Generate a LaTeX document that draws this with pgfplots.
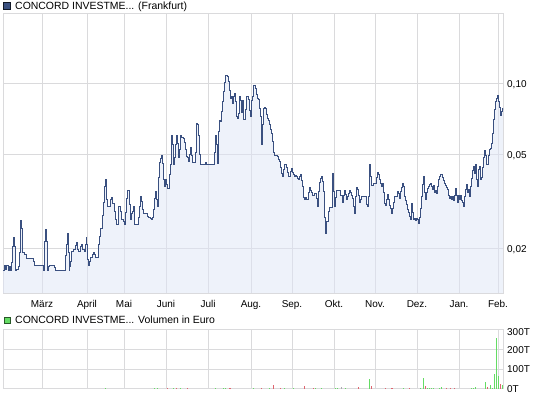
\documentclass[border=0pt]{standalone}
\usepackage{pgfplots}
\usepackage{pgfplotstable}
\pgfplotsset{compat=1.18}
\usepackage{fontspec}
\setmainfont{Liberation Sans}
\definecolor{gridgray}{RGB}{218,218,220}
\definecolor{linecol}{RGB}{58,80,128}
\definecolor{fillcol}{RGB}{222,229,246}
\definecolor{volgreen}{RGB}{100,220,100}
\definecolor{volred}{RGB}{222,100,110}
\definecolor{volgray}{RGB}{170,170,175}

\pgfplotstableread{
x y
0 0.0161
1 0.0169
2.3 0.0163
3.7 0.0169
5 0.0161
6.3 0.0168
7.7 0.0161
8.7 0.0174
9.7 0.0204
10.7 0.0223
11.7 0.0204
12.3 0.0161
13.7 0.0163
15 0.0168
16 0.0192
17 0.0236
17.7 0.0262
18.3 0.0242
19 0.0208
19.7 0.0192
21 0.0188
23 0.0181
30.3 0.0176
31 0.0169
40.3 0.0161
41.3 0.0214
42.3 0.0241
43.3 0.0214
44 0.0161
45.3 0.0168
46.3 0.0169
51.3 0.0165
52 0.0161
62.7 0.0186
63.7 0.0208
64.3 0.0231
65.3 0.0192
66 0.0161
66.7 0.0168
67.3 0.0176
68 0.0186
68.7 0.0194
70 0.0197
72.7 0.0205
73.3 0.0211
74.3 0.0197
75.7 0.0194
77 0.0204
78.3 0.0208
79.7 0.0198
81 0.0194
82.3 0.0208
83 0.0223
83.7 0.0208
84.7 0.0180
85.7 0.0169
86.7 0.0176
87.7 0.0183
89 0.0188
90.3 0.0192
91.7 0.0188
92.7 0.0182
94.3 0.0182
95.3 0.0208
96.3 0.0224
97.7 0.0243
99 0.0276
100.3 0.0312
101.3 0.0365
102.3 0.0392
103 0.0365
103.7 0.0321
104.7 0.0300
106.3 0.0300
107.3 0.0321
108.3 0.0329
109.3 0.0310
111 0.0287
112 0.0265
113 0.0252
114 0.0252
115 0.0300
116 0.0302
117 0.0287
118 0.0265
120 0.0260
121 0.0252
122 0.0284
123 0.0325
124 0.0351
125.3 0.0351
126.3 0.0306
127.3 0.0265
128.3 0.0280
129.3 0.0287
130.3 0.0300
131.3 0.0252
135 0.0252
135.7 0.0271
136.7 0.0302
137.3 0.0331
138.3 0.0316
139.3 0.0292
140.3 0.0280
144 0.0274
145.3 0.0271
147 0.0267
148.3 0.0264
149.3 0.0271
150.3 0.0292
151.3 0.0327
152.3 0.0349
153.3 0.0323
154.3 0.0300
155 0.0400
156.3 0.0464
157.3 0.0483
158.3 0.0498
159.3 0.0461
160.3 0.0392
161.3 0.0367
162.3 0.0392
163.3 0.0372
164.7 0.0360
166 0.0360
166.7 0.0412
167.3 0.0454
168.3 0.0601
169.3 0.0551
170.3 0.0454
171.3 0.0485
172.3 0.0551
173.3 0.0601
174.3 0.0559
175.3 0.0485
176.3 0.0524
177.3 0.0601
178.7 0.0589
180.3 0.0585
181.3 0.0563
182.3 0.0524
183.3 0.0491
184.3 0.0485
185.3 0.0469
186.3 0.0500
187.3 0.0537
188.3 0.0494
189.3 0.0462
191.3 0.0462
192.3 0.0513
193.3 0.0679
194.7 0.0670
195.7 0.0601
196.7 0.0503
197.7 0.0454
200.7 0.0454
202 0.0462
203.3 0.0454
210.3 0.0454
211.3 0.0510
212.3 0.0601
213.3 0.0551
214.3 0.0460
215.3 0.0628
216.3 0.0702
217.7 0.0692
218.7 0.0763
219.7 0.0841
220.7 0.0927
221.7 0.1017
222.7 0.1084
224 0.1070
225.3 0.1023
226.3 0.0940
227.3 0.0870
228.3 0.0881
229.3 0.0825
230.3 0.0881
231.3 0.0910
232.3 0.0841
233.3 0.0725
234.3 0.0716
235.3 0.0748
236.3 0.0887
237.3 0.0853
238.3 0.0754
239.3 0.0853
240.3 0.0706
241.3 0.0706
242.3 0.0778
243.3 0.0887
244.3 0.0887
245.3 0.0858
246.3 0.0774
247.3 0.0730
248.3 0.0847
249.3 0.0881
250.3 0.0984
251.3 0.0984
252.3 0.0959
253.3 0.0898
254.3 0.0870
255.3 0.0858
256.3 0.0789
257.3 0.0725
258 0.0608
258.7 0.0551
259.3 0.0670
260.3 0.0789
261.3 0.0794
262.3 0.0789
263.3 0.0739
264.3 0.0716
265.3 0.0697
266.3 0.0670
267.3 0.0641
268.3 0.0616
269.3 0.0570
270.3 0.0510
271.3 0.0494
273.3 0.0494
274.3 0.0491
275.3 0.0478
276.3 0.0466
277.3 0.0440
278.3 0.0417
279.3 0.0404
280.3 0.0433
281.3 0.0454
282.3 0.0454
283.3 0.0440
284.3 0.0420
285.3 0.0404
286.3 0.0404
287.3 0.0423
288.3 0.0436
289.3 0.0420
290.3 0.0412
291.3 0.0404
292.3 0.0409
293.3 0.0404
294.3 0.0398
295.3 0.0391
296.3 0.0402
297.3 0.0412
298.3 0.0388
299.3 0.0368
300.3 0.0330
301.3 0.0324
302.3 0.0330
303.3 0.0324
304.3 0.0322
305.3 0.0345
306.3 0.0361
307.3 0.0352
308.3 0.0345
309.3 0.0336
310.3 0.0334
311.3 0.0341
312.3 0.0343
313.3 0.0326
314.3 0.0301
315.3 0.0350
316.3 0.0381
317.3 0.0398
318.3 0.0402
319.3 0.0386
320.3 0.0350
321.3 0.0270
322.3 0.0231
323.3 0.0259
324.3 0.0259
325.3 0.0288
326.3 0.0299
328.3 0.0299
329.3 0.0415
330.3 0.0350
331.3 0.0301
332.3 0.0328
333.3 0.0351
336.7 0.0351
337.7 0.0336
338.7 0.0336
339.7 0.0313
340.7 0.0336
341.7 0.0351
342.7 0.0340
343.7 0.0323
344.7 0.0333
345.7 0.0342
346.7 0.0351
347.7 0.0344
348.7 0.0336
349.7 0.0327
350.7 0.0300
351.7 0.0280
352.7 0.0333
353.7 0.0362
354.7 0.0356
355.7 0.0336
356.7 0.0313
357.7 0.0323
358.7 0.0331
362.7 0.0331
363.7 0.0308
364.7 0.0302
365.3 0.0331
366 0.0408
366.7 0.0453
367.7 0.0405
368.7 0.0370
369.7 0.0370
370.7 0.0377
372.7 0.0377
373.7 0.0400
374.7 0.0421
375.7 0.0410
376.7 0.0392
377.7 0.0377
378.7 0.0365
379.7 0.0377
380.7 0.0347
381.7 0.0310
382.7 0.0304
383.7 0.0323
384.7 0.0340
385.7 0.0323
386.7 0.0304
387.7 0.0294
388.7 0.0281
389.7 0.0294
390.7 0.0314
391.7 0.0331
393.7 0.0333
394.7 0.0349
395.7 0.0342
396.7 0.0327
397.7 0.0349
398.7 0.0362
399.7 0.0379
400.7 0.0367
401.7 0.0331
402.7 0.0318
403.7 0.0306
404.7 0.0292
405.7 0.0284
406.7 0.0274
407.7 0.0264
408.7 0.0310
409.7 0.0285
410.7 0.0264
411.7 0.0267
412.7 0.0262
413.7 0.0269
414.7 0.0264
415.7 0.0255
416.7 0.0271
417.7 0.0296
418.7 0.0331
419.7 0.0374
420.7 0.0402
421.7 0.0344
422.7 0.0323
423.7 0.0344
424.7 0.0360
425.7 0.0367
426.7 0.0372
427.7 0.0377
428.7 0.0365
429.7 0.0356
430.7 0.0370
431.7 0.0344
432.7 0.0351
433.7 0.0342
434.7 0.0365
435.7 0.0392
436.7 0.0405
437.7 0.0410
438.7 0.0410
439.7 0.0400
440.7 0.0389
441.7 0.0379
442.7 0.0370
443.7 0.0362
444.7 0.0356
445.7 0.0336
446.7 0.0325
447.7 0.0331
448.7 0.0323
449.7 0.0331
450.7 0.0318
451.7 0.0336
452.7 0.0360
453.7 0.0336
454.7 0.0314
455.7 0.0336
456.7 0.0323
457.7 0.0336
458.7 0.0318
459.7 0.0313
460.7 0.0300
461.7 0.0331
462.7 0.0356
463.7 0.0372
464.7 0.0344
465.7 0.0356
466.7 0.0331
467.7 0.0365
468.7 0.0397
469.7 0.0427
470.7 0.0444
471.7 0.0418
472.7 0.0456
473.7 0.0392
474.7 0.0365
475.7 0.0432
476.7 0.0446
477.7 0.0392
478.7 0.0400
479.7 0.0441
480.7 0.0486
481.7 0.0522
482.7 0.0496
483.7 0.0453
484.7 0.0453
485.7 0.0498
486.7 0.0525
487.7 0.0532
488.7 0.0560
489.7 0.0618
490.7 0.0704
491.7 0.0776
492.7 0.0839
493.7 0.0866
494.7 0.0890
495.7 0.0845
496.7 0.0792
497.7 0.0732
498.7 0.0766
499.7 0.0786
500 0.0776
}\pricedata

\pgfplotstableread{
x v
102 4
151 4
154 4
170 4
177 4
212 4
220 4
222 4
250 4
266 4
281 4
290 4
312 4
318 4
332 5
334 5
342 4
366 50
400 4
417 4
420 55
424 5
426 5
428 5
430 5
436 5
438 8
468 5
470 5
472 8
482 33
487 20
489 6
491 77
493 257
495 67
499 20
}\volgreen

\pgfplotstableread{
x v
164 4
173 4
184 4
226 4
227 4
258 4
270 20
277 4
301 13
310 4
355 8
368 17
382 4
388 4
389 4
406 4
422 17
443 4
447 4
451 4
484 12
497 23
}\volred

\pgfplotstableread{
x v
338 8
}\volgray

\begin{document}
\begin{tikzpicture}
\path[use as bounding box] (0,0) rectangle (545bp,398bp);
\pgfplotsset{
  chartbase/.style={
    scale only axis, width=500bp, xmin=0, xmax=500,
    axis line style={draw=gridgray, line width=1bp},
    grid=major, major grid style={draw=gridgray, line width=1bp},
    tick style={draw=none},
    xtick={39,84,121,163,205,248,289,331,372,414,456,495},
    tick label style={font=\fontsize{10}{12}\selectfont, inner sep=0pt},
    yticklabel pos=right,
    yticklabel style={anchor=base west, xshift=4bp, yshift=-4bp},
    /pgf/number format/assume math mode=true,
  }
}
\begin{axis}[chartbase,
  at={(3bp,105bp)}, anchor=south west, height=280bp,
  ymode=log, ymin=0.0129, ymax=0.2, log origin y=infty,
  xticklabels={März,April,Mai,Juni,Juli,Aug.,Sep.,Okt.,Nov.,Dez.,Jan.,Feb.},
  xticklabel style={anchor=base, yshift=-14bp},
  ytick={0.02,0.05,0.1},
  yticklabels={{0,02},{0,05},{0,10}},
]
\addplot[const plot, draw=none, fill=fillcol, fill opacity=0.5] table[x=x,y=y] {\pricedata} \closedcycle;
\addplot[const plot, draw=linecol, line width=0.8bp] table[x=x,y=y] {\pricedata};
\end{axis}

\begin{axis}[chartbase,
  at={(3bp,9bp)}, anchor=south west, height=60bp,
  ymin=0, ymax=300,
  xticklabels={},
  ytick={0,100,200,300},
  yticklabels={0T,100T,200T,{\raisebox{-2.5bp}{300T}}},
]
\addplot[ycomb, draw=volgreen, line width=1bp] table[x=x,y=v] {\volgreen};
\addplot[ycomb, draw=volred, line width=1bp] table[x=x,y=v] {\volred};
\addplot[ycomb, draw=volgray, line width=1bp] table[x=x,y=v] {\volgray};
\end{axis}

\fill[fill=linecol, draw=black!70!linecol, line width=0.8bp] (3.5bp,388.5bp) rectangle (10.5bp,395.5bp);
\node[anchor=base west, inner sep=0pt, font=\fontsize{10.5}{12}\selectfont] at (15bp,388bp) {CONCORD INVESTME... (Frankfurt)};
\fill[fill=volgreen, draw=black!60!volgreen, line width=0.8bp] (4bp,75bp) rectangle (10bp,81bp);
\node[anchor=base west, inner sep=0pt, font=\fontsize{10.5}{12}\selectfont] at (15bp,74bp) {CONCORD INVESTME... Volumen in Euro};
\end{tikzpicture}
\end{document}
